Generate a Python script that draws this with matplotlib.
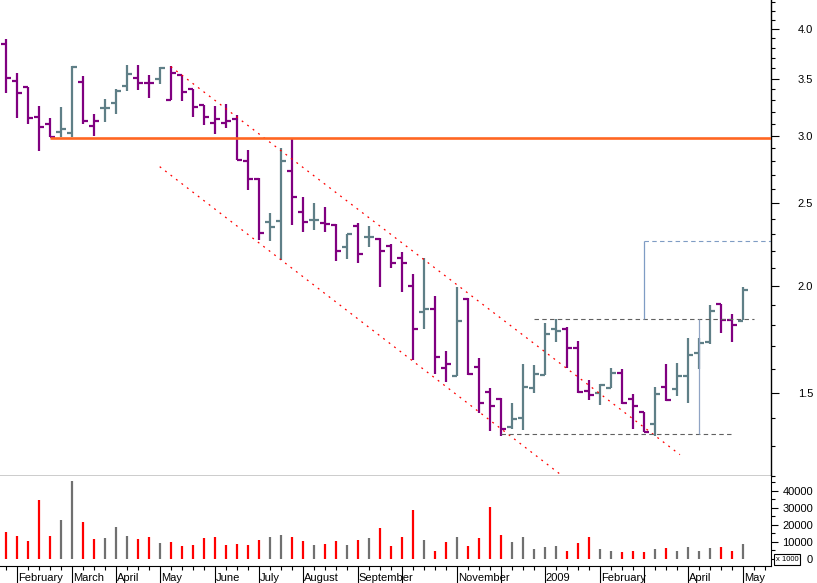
import numpy as np
import matplotlib
matplotlib.use('Agg')
import matplotlib.pyplot as plt
from matplotlib.ticker import NullFormatter
from matplotlib.transforms import blended_transform_factory

plt.rcParams['font.family'] = ['Liberation Sans', 'DejaVu Sans']

# weekly bars, late Jan 2008 .. May 2009
opens = [3.842, 3.480, 3.418, 3.158, 3.094, 3.033, 3.020, 3.470, 3.080, 3.230,
         3.279, 3.433, 3.508, 3.461, 3.493, 3.306, 3.534, 3.400, 3.259, 3.102,
         3.102, 3.136, 2.805, 2.668, 2.380, 2.386, 2.730, 2.444, 2.390, 2.369,
         2.358, 2.225, 2.352, 2.285, 2.271, 2.227, 2.156, 2.001, 1.864, 1.881,
         1.603, 1.570, 1.933, 1.610, 1.502, 1.476, 1.369, 1.403, 1.521, 1.574,
         1.782, 1.782, 1.694, 1.509, 1.501, 1.521, 1.584, 1.476, 1.423, 1.378,
         1.523, 1.516, 1.571, 1.672, 1.722, 1.905, 1.826, 1.822]
highs = [3.894, 3.550, 3.424, 3.250, 3.144, 3.244, 3.617, 3.527, 3.178, 3.312,
         3.400, 3.630, 3.630, 3.534, 3.614, 3.620, 3.534, 3.400, 3.259, 3.250,
         3.265, 3.172, 2.887, 2.675, 2.438, 2.900, 2.979, 2.545, 2.500, 2.478,
         2.363, 2.302, 2.369, 2.352, 2.275, 2.238, 2.191, 2.065, 2.156, 1.948,
         1.679, 1.997, 1.936, 1.647, 1.521, 1.481, 1.461, 1.621, 1.617, 1.812,
         1.829, 1.793, 1.726, 1.553, 1.536, 1.603, 1.598, 1.496, 1.424, 1.525,
         1.620, 1.625, 1.738, 1.738, 1.901, 1.906, 1.854, 1.997]
lows = [3.369, 3.144, 3.099, 2.882, 2.990, 2.990, 2.990, 3.099, 3.000, 3.116,
        3.178, 3.384, 3.391, 3.318, 3.446, 3.303, 3.294, 3.158, 3.088, 3.012,
        3.061, 2.810, 2.592, 2.265, 2.261, 2.146, 2.358, 2.316, 2.327, 2.316,
        2.142, 2.150, 2.131, 2.225, 1.997, 2.099, 1.970, 1.639, 1.780, 1.578,
        1.546, 1.570, 1.574, 1.420, 1.355, 1.336, 1.360, 1.358, 1.501, 1.573,
        1.722, 1.603, 1.498, 1.472, 1.452, 1.519, 1.456, 1.361, 1.349, 1.337,
        1.469, 1.489, 1.458, 1.598, 1.710, 1.761, 1.719, 1.826]
closes = [3.508, 3.369, 3.149, 3.074, 2.990, 3.058, 3.614, 3.122, 3.122, 3.230,
          3.387, 3.543, 3.461, 3.461, 3.604, 3.550, 3.378, 3.244, 3.158, 3.136,
          3.124, 2.810, 2.670, 2.310, 2.348, 2.805, 2.545, 2.380, 2.390, 2.363,
          2.201, 2.300, 2.179, 2.285, 2.201, 2.131, 2.131, 1.782, 1.881, 1.653,
          1.621, 1.822, 1.577, 1.461, 1.449, 1.361, 1.397, 1.525, 1.578, 1.758,
          1.774, 1.694, 1.502, 1.492, 1.532, 1.584, 1.458, 1.449, 1.351, 1.495,
          1.472, 1.571, 1.661, 1.714, 1.872, 1.826, 1.801, 1.979]
volumes = [15860, 13490, 10530, 34620, 13490, 22780, 45860, 21600, 11540, 11950,
           18640, 13310, 11540, 12720, 9350, 9940, 7570, 7990, 11950, 12540,
           7990, 8760, 7990, 10950, 12540, 13910, 12720, 10360, 7810, 8400,
           10360, 7810, 10950, 11950, 18050, 7400, 12720, 28700, 10950, 4440,
           9760, 12720, 7400, 11950, 30300, 13910, 9590, 12720, 5620, 6980,
           7220, 4260, 8990, 12540, 5440, 4440, 3850, 4440, 3850, 5440,
           6210, 4440, 6800, 4440, 6210, 6800, 4440, 8400]

month_pos = [1, 6, 10, 14, 19, 23, 27, 32, 36, 41, 45, 49, 54, 58, 62, 67]
month_labels = ['February', 'March', 'April', 'May', 'June', 'July', 'August',
                'September', '', 'November', '', '2009', 'February', '', 'April', 'May']

# drawn studies (week index, price)
resistance = 2.985
resist_start = 4
chan_upper = ([15, 61.3], [3.614, 1.270])
chan_lower = ([14, 52], [2.76, 1.162])
box_top, box_top_x = 1.829, (48, 68)
box_bot, box_bot_x = 1.343, (45, 66)
target, target_x = 2.259, 58
height_x = 63

n = len(closes)
idx = np.arange(n)
prev = np.r_[opens[0], closes[:-1]]
up = np.array(closes) > prev

PURPLE = '#800080'
GREY = '#5f7f87'
x_lo, x_hi = -0.52, 69.58

fig = plt.figure(figsize=(8.17, 5.83), dpi=100)
ax = fig.add_axes([0, 1 - 476 / 583, 771 / 817, 476 / 583])
axv = fig.add_axes([0, 1 - 566 / 583, 771 / 817, 90 / 583])

bar_cols = np.where(up, GREY, PURPLE)
ax.vlines(idx, lows, highs, colors=bar_cols, lw=1.6)
ax.hlines(opens, idx - 0.42, idx, colors=bar_cols, lw=1.6)
ax.hlines(closes, idx, idx + 0.45, colors=bar_cols, lw=1.6)

ax.hlines(resistance, resist_start, x_hi, color='#ff6622', lw=1.9, zorder=4)
ax.plot(*chan_upper, color='red', lw=0.9, ls=(0, (1.5, 4)))
ax.plot(*chan_lower, color='red', lw=0.9, ls=(0, (1.5, 4)))
ax.hlines(box_top, *box_top_x, color='#606060', lw=0.8, ls=(0, (4, 3)))
ax.hlines(box_bot, *box_bot_x, color='#606060', lw=0.8, ls=(0, (4, 3)))
ax.vlines(target_x, box_top, target, color='#7f9cc4', lw=0.9)
ax.hlines(target, target_x, x_hi, color='#7f9cc4', lw=0.8, ls=(0, (4, 3)))
ax.vlines(height_x, box_bot, box_top, color='#90a4c4', lw=0.9)

ax.set_yscale('log')
ax.set_ylim(1.199, 4.325)
ax.set_xlim(x_lo, x_hi)
ax.set_yticks([1.5, 2.0, 2.5, 3.0, 3.5, 4.0])
ax.set_yticklabels(['1.5', '2.0', '2.5', '3.0', '3.5', '4.0'])
ax.set_yticks([v / 10 for v in range(12, 44) if v % 5], minor=True)
ax.yaxis.set_minor_formatter(NullFormatter())
ax.yaxis.tick_right()
ax.tick_params(axis='y', which='major', length=5.8, width=0.8, pad=24.5, labelsize=8)
ax.tick_params(axis='y', which='minor', length=2.9, width=0.8)
ax.tick_params(axis='x', bottom=False, labelbottom=False)
for s in ['top', 'left']:
    ax.spines[s].set_visible(False)
for s in ['bottom', 'right']:
    ax.spines[s].set_linewidth(1.0)
for t in ax.get_yticklabels():
    t.set_horizontalalignment('right')

vol_cols = np.where(up, '#707070', '#ff0000')
axv.vlines(idx, 0, volumes, colors=vol_cols, lw=1.6)
axv.set_xlim(x_lo, x_hi)
axv.set_ylim(-4400, 48800)
axv.set_yticks([0, 10000, 20000, 30000, 40000])
axv.set_yticklabels(['0', '10000', '20000', '30000', '40000'])
axv.set_yticks([5000, 15000, 25000, 35000, 45000], minor=True)
axv.yaxis.tick_right()
axv.tick_params(axis='y', which='major', length=5.0, width=0.8, pad=25.2, labelsize=8)
axv.tick_params(axis='y', which='minor', length=2.9, width=0.8)
for t in axv.get_yticklabels():
    t.set_horizontalalignment('right')
axv.set_xticks(month_pos)
axv.set_xticklabels([])
axv.set_xticks(np.arange(0, 70), minor=True)
axv.tick_params(axis='x', which='major', length=12.2, width=0.8)
axv.tick_params(axis='x', which='minor', length=2.9, width=0.8)
for s in ['top', 'left']:
    axv.spines[s].set_visible(False)

tr = blended_transform_factory(axv.transData, axv.transAxes)
for p, lab in zip(month_pos, month_labels):
    axv.text(p + 0.1, -0.163, lab, transform=tr, ha='left', va='baseline', fontsize=8)

fig.text(787 / 817, 1 - 559.5 / 583, 'x 1000', ha='center', va='center', fontsize=5.5,
         bbox=dict(boxstyle='square,pad=0.25', fc='white', ec='black', lw=0.8))

fig.savefig('out.png', dpi=100)
